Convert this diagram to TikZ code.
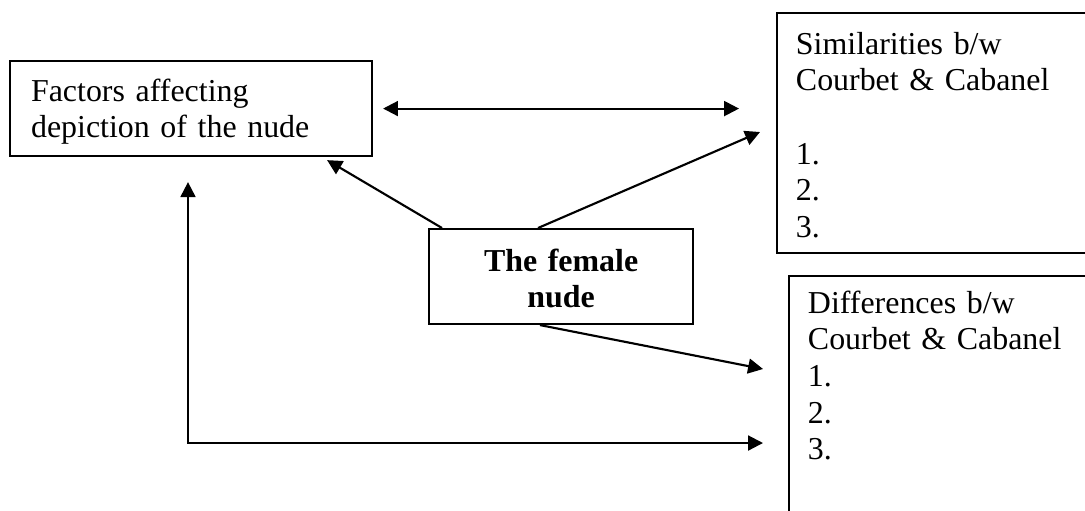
\documentclass[tikz,border=0pt]{standalone}
\usepackage{fontspec}
\setmainfont{Liberation Serif}
\usetikzlibrary{arrows.meta,calc}
\begin{document}
\begin{tikzpicture}[x=0.376pt,y=-0.376pt,
  box/.style={draw,line width=0.8pt,inner ysep=0pt,anchor=north west,
    font=\fontsize{12pt}{13.8pt}\selectfont},
  tip/.style={Triangle[length=5.6pt,width=5.6pt]},
  conn/.style={line width=0.8pt,-{Triangle[length=5.6pt,width=5.6pt]}},
  dconn/.style={line width=0.8pt,{Triangle[length=5.6pt,width=5.6pt]}-{Triangle[length=5.6pt,width=5.6pt]}}
]
\useasboundingbox (0,0) rectangle (1085,510);
\clip (0,0) rectangle (1085,510);

\node[box, inner xsep=7.9pt, text width=120.3pt, text height=15.04pt, text depth=20.68pt, align=left]
  (factors) at (9,60) {Factors affecting\\depiction of the nude};

\node[box, inner xsep=0pt, text width=99.3pt, text height=15.8pt, text depth=19.9pt, align=center,
  font=\fontsize{12pt}{13.8pt}\selectfont\bfseries]
  (nude) at (428,228) {The female\\nude};

\node[box, inner xsep=7.1pt, text width=107.5pt, text height=15.4pt, text depth=74.8pt, align=left]
  (sim) at (776,12) {Similarities b/w\\Courbet \& Cabanel\\[13.8pt]1.\\2.\\3.};

\node[box, inner xsep=7.1pt, text width=103pt, text height=13.9pt, text depth=112.8pt, align=left]
  (diff) at (788,275) {Differences b/w\\Courbet \& Cabanel\\1.\\2.\\3.};

% connectors
\draw[dconn, shorten <=3.76pt, shorten >=13.9pt] (factors.east) -- (factors.east -| sim.west);
\draw[conn] ($(nude.north west)+(14,0)$) -- ($(factors.south east)+(-46,3)$);
\draw[conn] ($(nude.north west)+(110,0)$) -- ($(sim.north west)+(-16,120)$);
\draw[conn] ($(nude.south west)+(112,0)$) -- ($(diff.north west)+(-25,94)$);
\draw[dconn] ($(factors.south west)+(179,25)$) |- ($(diff.north west)+(-25,168)$);
\end{tikzpicture}
\end{document}
